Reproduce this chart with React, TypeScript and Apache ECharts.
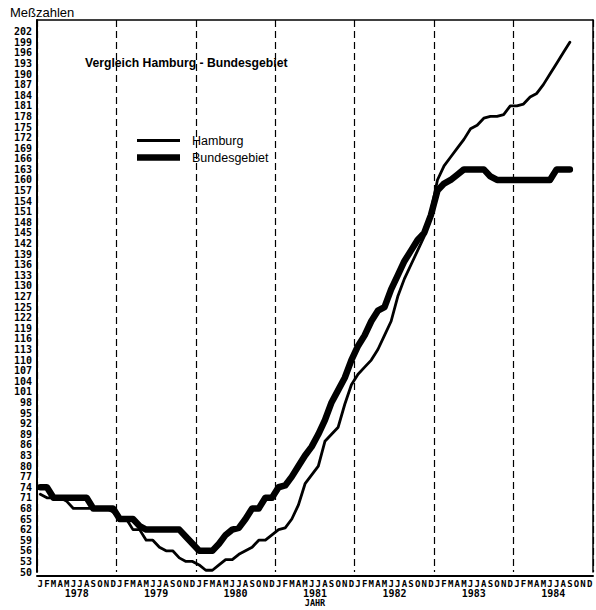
import React, { useEffect, useRef } from 'react';
import * as echarts from 'echarts';

const years = ['1978', '1979', '1980', '1981', '1982', '1983', '1984'];
const monthLetters = ['J', 'F', 'M', 'A', 'M', 'J', 'J', 'A', 'S', 'O', 'N', 'D'];

// printed tick labels of the y axis (evenly spaced on the sheet)
const yTicks = [
  50, 53, 56, 59, 62, 65, 68, 71, 74, 77, 80, 83, 86, 89, 92, 95, 98, 101, 104, 107,
  110, 113, 116, 119, 122, 125, 127, 130, 133, 136, 139, 142, 145, 148, 151, 154, 157,
  160, 163, 166, 169, 172, 175, 178, 181, 184, 187, 190, 193, 196, 199, 202,
];

// monthly values, Jan 1978 .. Sep 1984
const hamburg = [
  72, 71, 71, 71, 70, 68, 68, 68, 68, 68, 68, 67,
  65, 65, 62, 62, 59, 59, 57, 56, 56, 54, 53, 53,
  52, 50.5, 50.5, 52, 53.5, 53.5, 55, 56, 57, 59, 59, 60.5,
  62, 62.5, 65, 69, 75, 77.5, 80, 87, 89, 91, 97.5, 103,
  106, 108, 110, 113, 117, 121, 127, 132, 136, 140, 144, 151,
  160, 164, 166.5, 169, 171.5, 174.5, 175.5, 177.5, 178, 178, 178.5, 181,
  181, 181.5, 183.5, 184.5, 187, 190, 193, 196, 199,
];

const bundesgebiet = [
  74, 74, 71, 71, 71, 71, 71, 71, 68, 68, 68, 68,
  65, 65, 65, 63, 62, 62, 62, 62, 62, 62, 60, 58,
  56, 56, 56, 58, 60.5, 62, 62.5, 65, 68, 68, 71, 71,
  74, 74.5, 77, 80, 83, 85.5, 89, 93, 98, 101.5, 105, 110,
  114, 117, 121, 124, 125, 129, 133, 137, 140, 143, 145, 150,
  157, 159, 160, 161.5, 163, 163, 163, 163, 161, 160, 160, 160,
  160, 160, 160, 160, 160, 160, 163, 163, 163,
];

const categories = years.flatMap((y) => monthLetters.map((_, i) => `${y}-${i + 1}`));

function toTickIndex(v: number): number {
  for (let i = 0; i < yTicks.length - 1; i++) {
    if (v <= yTicks[i + 1]) {
      return i + (v - yTicks[i]) / (yTicks[i + 1] - yTicks[i]);
    }
  }
  const last = yTicks.length - 1;
  return last + (v - yTicks[last]) / 3;
}

const MONO = "'DejaVu Sans Mono', monospace";
const SANS = "'Liberation Sans', Arial, sans-serif";

export default function App() {
  const ref = useRef<HTMLDivElement>(null);

  useEffect(() => {
    if (!ref.current) return;
    const chart = echarts.init(ref.current, undefined, { renderer: 'svg' });
    const yMax = 52.1;
    chart.setOption({
      animation: false,
      backgroundColor: '#fff',
      title: [
        {
          text: 'Meßzahlen',
          left: 10,
          top: 6,
          padding: 0,
          textStyle: { fontFamily: SANS, fontSize: 13, fontWeight: 'normal', color: '#000' },
        },
        {
          text: 'Vergleich Hamburg - Bundesgebiet',
          left: 85,
          top: 57,
          padding: 0,
          textStyle: { fontFamily: SANS, fontSize: 12.2, fontWeight: 'bold', color: '#000' },
        },
      ],
      legend: {
        orient: 'vertical',
        left: 137,
        top: 134,
        padding: 0,
        itemWidth: 43,
        itemHeight: 10,
        itemGap: 4,
        textStyle: { fontFamily: SANS, fontSize: 12.5, color: '#000', padding: [0, 0, 0, 7] },
        data: [
          { name: 'Hamburg', icon: 'path://M0,0H43V3H0Z', itemStyle: { color: '#000' } },
          { name: 'Bundesgebiet', icon: 'path://M0,0H43V6.5H0Z', itemStyle: { color: '#000' } },
        ],
      },
      grid: { left: 37, right: 3, top: 20, bottom: 38, containLabel: false, outerBoundsMode: 'none' },
      xAxis: [
        {
          type: 'category',
          data: categories,
          position: 'bottom',
          offset: 4,
          boundaryGap: true,
          axisLine: { show: true, onZero: false, lineStyle: { color: '#000', width: 2 } },
          axisTick: { show: false },
          splitLine: { show: false },
          axisLabel: {
            interval: 0,
            margin: 3,
            fontFamily: MONO,
            fontWeight: 'bold',
            fontSize: 9,
            color: '#000',
            formatter: (_v: string, i: number) => monthLetters[i % 12],
          },
        },
        {
          type: 'category',
          data: years,
          position: 'bottom',
          offset: 4,
          boundaryGap: true,
          axisLine: { show: false, onZero: false },
          axisTick: { show: false },
          axisLabel: { margin: 12, fontFamily: MONO, fontWeight: 'bold', fontSize: 10, color: '#000' },
          splitLine: { show: true, lineStyle: { color: '#000', width: 1.2, type: [7, 4] } },
          name: 'JAHR',
          nameLocation: 'middle',
          nameGap: 22,
          nameMoveOverlap: false,
          nameTextStyle: { fontFamily: MONO, fontWeight: 'bold', fontSize: 8.5, color: '#000' },
        },
        {
          type: 'category',
          data: years,
          position: 'top',
          axisLine: { show: true, onZero: false, lineStyle: { color: '#000', width: 1.5 } },
          axisTick: { show: false },
          axisLabel: { show: false },
          splitLine: { show: false },
        },
      ],
      yAxis: [
        {
          type: 'value',
          min: 0,
          max: yMax,
          interval: 1,
          position: 'left',
          axisLine: { show: true, onZero: false, lineStyle: { color: '#000', width: 2 } },
          axisTick: { show: false },
          splitLine: { show: false },
          axisLabel: {
            margin: 5,
            fontFamily: MONO,
            fontWeight: 'bold',
            fontSize: 10,
            color: '#000',
            formatter: (v: number) => {
              const i = Math.round(v);
              return Math.abs(v - i) < 1e-6 && i >= 0 && i < yTicks.length ? String(yTicks[i]) : '';
            },
          },
        },
        {
          type: 'value',
          min: 0,
          max: yMax,
          interval: 1,
          position: 'right',
          axisLine: { show: true, onZero: false, lineStyle: { color: '#000', width: 1.5 } },
          axisTick: { show: false },
          axisLabel: { show: false },
          splitLine: { show: false },
        },
      ],
      series: [
        {
          name: 'Hamburg',
          type: 'line',
          xAxisIndex: 0,
          yAxisIndex: 0,
          data: hamburg.map(toTickIndex),
          symbol: 'none',
          showSymbol: false,
          itemStyle: { color: '#000' },
          lineStyle: { color: '#000', width: 2.8, cap: 'round', join: 'round' },
          z: 3,
        },
        {
          name: 'Bundesgebiet',
          type: 'line',
          xAxisIndex: 0,
          yAxisIndex: 0,
          data: bundesgebiet.map(toTickIndex),
          symbol: 'none',
          showSymbol: false,
          itemStyle: { color: '#000' },
          lineStyle: { color: '#000', width: 6.5, cap: 'round', join: 'round' },
          z: 2,
        },
      ],
    });
    return () => chart.dispose();
  }, []);

  return (
    <div
      ref={ref}
      style={{ position: 'absolute', left: 0, top: 0, width: 596, height: 610 }}
    />
  );
}
